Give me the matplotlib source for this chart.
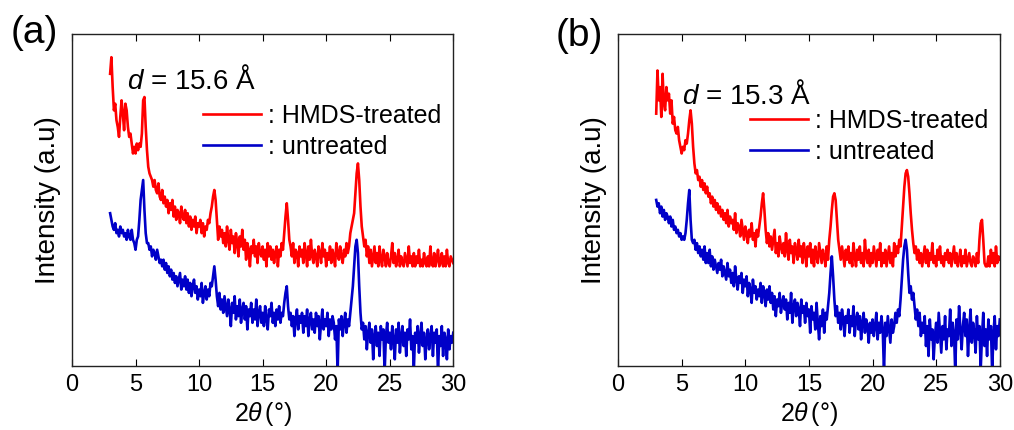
import numpy as np
import matplotlib
matplotlib.use("Agg")
import matplotlib.pyplot as plt

plt.rcParams['font.family'] = ['Liberation Sans', 'DejaVu Sans']
plt.rcParams['mathtext.fontset'] = 'custom'
plt.rcParams['mathtext.rm'] = 'Liberation Sans'
plt.rcParams['mathtext.it'] = 'Liberation Sans:italic'

# 2theta grid, 3..30 deg every 0.1 deg (arbitrary units)
two_theta = np.linspace(3, 30, 271)

red_a = [
    88, 93, 84, 77, 79, 74, 72, 69, 75, 80,
    76, 71, 79, 77, 72, 69, 70, 67, 64, 66,
    64, 67, 65, 67, 66, 70, 80, 81, 72, 65,
    60, 58, 57, 56, 54, 56, 53, 52, 55, 51,
    50, 53, 49, 51, 48, 50, 46, 49, 47, 50,
    45, 48, 44, 47, 46, 43, 48, 45, 44, 47,
    43, 46, 42, 45, 41, 44, 42, 45, 40, 43,
    42, 44, 40, 43, 39, 42, 41, 44, 43, 46,
    48, 51, 53, 50, 44, 38, 42, 39, 41, 37,
    40, 36, 42, 38, 35, 41, 37, 39, 34, 40,
    37, 33, 39, 36, 41, 35, 38, 32, 37, 35,
    30, 36, 34, 38, 33, 36, 31, 37, 34, 33,
    36, 32, 35, 30, 37, 33, 36, 32, 35, 31,
    34, 36, 30, 35, 33, 37, 35, 40, 45, 49,
    44, 38, 36, 33, 37, 31, 35, 34, 30, 36,
    33, 35, 31, 37, 34, 30, 36, 32, 38, 33,
    31, 35, 33, 30, 36, 34, 31, 37, 33, 35,
    30, 34, 32, 36, 31, 35, 33, 30, 37, 34,
    32, 36, 33, 31, 35, 33, 37, 34, 36, 40,
    42, 44, 46, 52, 58, 61, 56, 48, 42, 39,
    36, 38, 33, 36, 31, 35, 30, 33, 36, 31,
    34, 30, 36, 32, 30, 35, 33, 30, 34, 31,
    30, 33, 37, 31, 34, 30, 32, 35, 30, 33,
    31, 30, 34, 32, 30, 36, 31, 33, 30, 34,
    30, 33, 31, 35, 30, 32, 30, 34, 31, 30,
    33, 30, 36, 31, 30, 34, 30, 32, 35, 30,
    31, 34, 30, 33, 30, 35, 31, 30, 33, 32,
    31,
]

blue_a = [
    46, 44, 42, 41, 43, 40, 41, 39, 42, 40,
    41, 39, 40, 38, 41, 39, 38, 41, 38, 37,
    35, 38, 39, 44, 50, 53, 56, 47, 40, 37,
    37, 35, 36, 33, 35, 34, 32, 35, 33, 31,
    32, 30, 32, 29, 31, 28, 30, 27, 29, 26,
    28, 25, 27, 24, 26, 28, 23, 26, 24, 27,
    23, 26, 22, 25, 21, 24, 26, 22, 24, 20,
    23, 21, 25, 19, 22, 24, 20, 23, 21, 25,
    24, 27, 30, 26, 21, 18, 22, 17, 20, 16,
    21, 18, 15, 20, 17, 12, 19, 16, 21, 14,
    18, 15, 20, 13, 17, 19, 14, 18, 11, 17,
    15, 19, 13, 17, 14, 20, 12, 16, 18, 13,
    16, 12, 18, 14, 11, 17, 15, 19, 13, 16,
    12, 17, 14, 18, 13, 16, 15, 19, 22, 24,
    18, 14, 16, 12, 15, 9, 14, 17, 11, 15,
    13, 16, 10, 15, 12, 17, 9, 14, 16, 11,
    14, 10, 16, 12, 15, 8, 13, 17, 11, 14,
    12, 16, 9, 14, 11, 15, 13, 8, 12, -2,
    14, 11, 15, 9, 13, 16, 10, 14, 12, 16,
    20, 24, 30, 36, 38, 34, 24, 16, 11, 13,
    8, 12, 5, 10, 13, 7, 11, 2, 9, 12,
    6, 10, 3, 12, 8, 11, -2, 9, 13, 7,
    10, 5, 12, 8, 2, 11, 7, 13, 4, 9,
    12, 6, 10, 3, 11, 8, 14, 5, 9, -1,
    10, 7, 12, 4, 9, 13, 6, 10, 2, 8,
    11, 5, 9, 12, 3, 10, 7, 11, -2, 9,
    6, 12, 3, 10, 8, 2, 11, 5, 9, 7,
    10,
]

red_b = [
    76, 89, 80, 84, 75, 88, 79, 77, 84, 80,
    82, 76, 80, 73, 75, 71, 70, 72, 68, 66,
    64, 66, 65, 68, 67, 70, 74, 77, 73, 66,
    61, 58, 59, 56, 57, 54, 56, 53, 55, 52,
    54, 51, 52, 49, 51, 48, 50, 47, 49, 46,
    48, 45, 47, 44, 46, 43, 47, 42, 45, 43,
    44, 41, 46, 40, 43, 42, 39, 44, 41, 38,
    42, 40, 37, 41, 39, 43, 38, 40, 36, 41,
    39, 42, 45, 49, 52, 47, 41, 37, 40, 36,
    39, 35, 38, 41, 34, 37, 33, 39, 36, 34,
    37, 33, 40, 35, 32, 38, 34, 36, 31, 37,
    35, 32, 38, 33, 36, 31, 37, 34, 30, 36,
    33, 37, 31, 35, 30, 36, 33, 31, 37, 34,
    31, 35, 33, 30, 36, 32, 38, 42, 47, 51,
    52, 50, 44, 38, 35, 32, 36, 33, 30, 35,
    32, 36, 31, 34, 30, 37, 33, 30, 35, 32,
    36, 31, 34, 30, 38, 33, 31, 35, 30, 34,
    31, 36, 33, 30, 35, 32, 37, 30, 34, 31,
    35, 30, 33, 36, 31, 34, 30, 37, 33, 36,
    34, 38, 36, 42, 48, 54, 58, 59, 57, 52,
    46, 41, 37, 34, 36, 32, 35, 31, 34, 30,
    33, 36, 31, 35, 30, 34, 32, 37, 31, 33,
    30, 35, 32, 36, 31, 33, 30, 34, 32, 35,
    31, 34, 30, 33, 36, 31, 34, 30, 32, 35,
    30, 33, 31, 35, 30, 32, 34, 31, 30, 33,
    32, 30, 34, 31, 38, 43, 44, 38, 31, 30,
    30, 33, 30, 35, 31, 34, 30, 36, 31, 33,
    32,
]

blue_b = [
    50, 48, 49, 46, 48, 45, 47, 44, 46, 45,
    43, 45, 42, 44, 41, 42, 40, 41, 39, 40,
    38, 39, 38, 40, 44, 49, 53, 44, 38, 37,
    38, 35, 37, 34, 36, 33, 35, 32, 36, 31,
    34, 31, 35, 30, 33, 29, 32, 30, 28, 31,
    29, 32, 27, 30, 28, 26, 31, 27, 29, 25,
    28, 24, 30, 26, 23, 27, 25, 28, 22, 26,
    24, 27, 21, 25, 23, 19, 26, 22, 24, 20,
    23, 21, 25, 19, 24, 22, 18, 23, 20, 24,
    19, 22, 17, 21, 15, 20, 18, 22, 16, 19,
    21, 17, 20, 14, 19, 16, 22, 13, 18, 20,
    15, 19, 17, 12, 20, 16, 18, 13, 19, 15,
    17, 10, 18, 14, 16, 11, 19, 13, 8, 15,
    12, 17, 10, 16, 14, 18, 22, 28, 33, 27,
    20, 15, 18, 13, 16, 11, 17, 14, 9, 15,
    13, 17, 10, 15, 12, 18, 9, 14, 16, 11,
    15, 8, 13, 16, 10, 14, 12, 7, 13, 10,
    14, 9, 12, 16, 8, 13, 10, 15, 11, -2,
    13, 9, 15, 11, 7, 14, 10, 12, 16, 13,
    17, 15, 20, 26, 32, 36, 38, 35, 28, 22,
    24, 20, 22, 18, 14, 17, 12, 16, 9, 13,
    10, 15, 6, 12, 3, 14, 8, 11, 2, 9,
    13, 7, 16, 10, 4, 12, 8, 15, 5, 11,
    9, 17, 6, 13, 10, -2, 14, 8, 18, 11,
    5, 12, 16, 9, 14, 3, 11, 17, 7, 13,
    10, 4, 15, 8, 12, -1, 9, 16, 6, 11,
    3, 14, 8, 12, -2, 10, 15, 5, 12, 9,
    14,
]

labels = [": HMDS-treated", ": untreated"]
d_texts = ["$d$ = 15.6 Å", "$d$ = 15.3 Å"]
d_pos = [(4.3, 83.5), (5.0, 79.0)]
x_ticks = [0, 5, 10, 15, 20, 25, 30]

RED = '#FF0000'
BLUE = '#0000C8'


def draw_panel(ax, red, blue, d_text, d_xy, leg_anchor):
    ax.plot(two_theta, red, color=RED, lw=1.9, label=labels[0])
    ax.plot(two_theta, blue, color=BLUE, lw=1.9, label=labels[1])
    ax.set_xlim(0, 30)
    ax.set_ylim(0, 100)
    ax.set_xticks(x_ticks)
    ax.set_yticks([])
    ax.tick_params(axis='x', direction='in', top=True, length=5, labelsize=17, pad=6)
    for s in ax.spines.values():
        s.set_linewidth(1.0)
        s.set_color('#222222')
    ax.set_xlabel('2$\\theta\\,$(°)', fontsize=18, labelpad=3)
    ax.set_ylabel('Intensity (a.u)', fontsize=20, labelpad=8)
    ax.text(d_xy[0], d_xy[1], d_text, fontsize=20, va='baseline')
    ax.legend(loc='upper left', bbox_to_anchor=leg_anchor, frameon=False, fontsize=18,
              handlelength=2.3, handletextpad=0.3, labelspacing=0.3,
              borderaxespad=0, borderpad=0)


fig = plt.figure(figsize=(10.14, 4.3), dpi=100)
ax_a = fig.add_axes([0.071, 0.149, 0.376, 0.772])
ax_b = fig.add_axes([0.6095, 0.149, 0.3765, 0.772])

draw_panel(ax_a, red_a, blue_a, d_texts[0], d_pos[0], (0.344, 0.79))
draw_panel(ax_b, red_b, blue_b, d_texts[1], d_pos[1], (0.346, 0.775))

fig.text(11 / 1014, 1 - 33 / 430, '(a)', fontsize=28, va='center')
fig.text(556 / 1014, 1 - 36 / 430, '(b)', fontsize=28, va='center')

fig.savefig('out.png', dpi=100)
